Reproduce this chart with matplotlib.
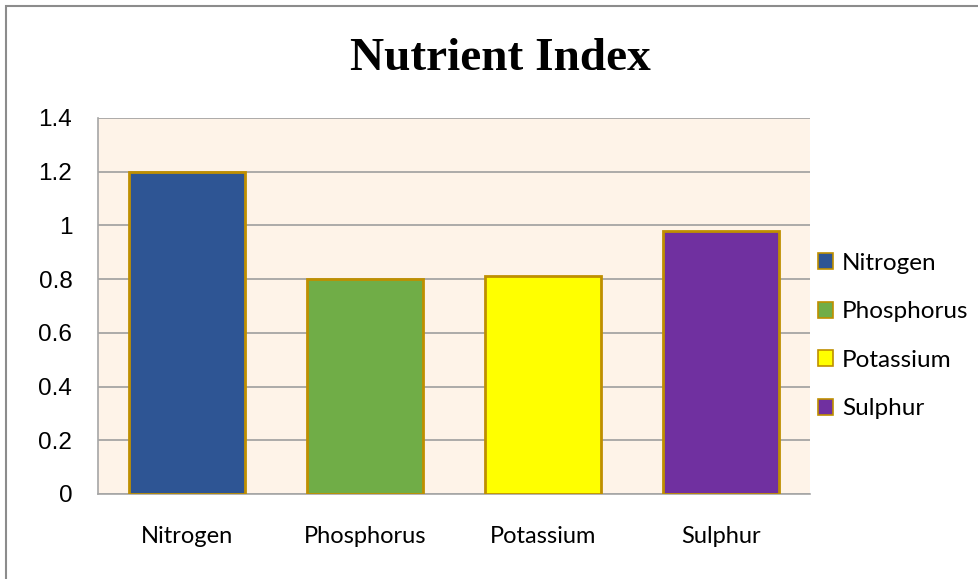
import matplotlib.pyplot as plt
from matplotlib.patches import Rectangle, Patch

# data
nutrients = ["Nitrogen", "Phosphorus", "Potassium", "Sulphur"]
index_values = [1.2, 0.80, 0.81, 0.98]
bar_colors = ["#2E5594", "#70AD47", "#FFFF00", "#7030A0"]
y_ticks = [0, 0.2, 0.4, 0.6, 0.8, 1, 1.2, 1.4]
y_tick_labels = ["0", "0.2", "0.4", "0.6", "0.8", "1", "1.2", "1.4"]

edge = "#BF8F00"

fig = plt.figure(figsize=(9.79, 5.79), dpi=100)
fig.patch.set_facecolor("white")

# outer chart border (only left/top visible in reference)
fig.add_artist(Rectangle((6 / 979, -0.1), 1.2, 1 - 6 / 579 + 0.1,
                         transform=fig.transFigure, fill=False,
                         edgecolor="#8C8C8C", linewidth=1.5))

ax = fig.add_axes([98 / 979, 1 - 494 / 579, 712 / 979, 376 / 579])
ax.set_facecolor("#FEF3E8")

x = range(len(nutrients))
ax.bar(x, index_values, width=0.65, color=bar_colors, edgecolor=edge,
       linewidth=2, zorder=3)

ax.set_xlim(-0.5, len(nutrients) - 0.5)
ax.set_ylim(0, 1.4)
ax.set_yticks(y_ticks)
ax.set_yticklabels(y_tick_labels, fontsize=17.5, family="Liberation Sans")
ax.set_xticks(list(x))
ax.set_xticklabels(nutrients, fontsize=17, family="Lato")
ax.tick_params(axis="both", length=0)
ax.tick_params(axis="y", pad=18.5)
ax.tick_params(axis="x", pad=23)

ax.yaxis.grid(True, color="#9E9E9E", linewidth=1.2, zorder=0)
ax.set_axisbelow(True)
for side in ["top", "right"]:
    ax.spines[side].set_visible(False)
for side in ["left", "bottom"]:
    ax.spines[side].set_color("#A6A6A6")
    ax.spines[side].set_linewidth(1.2)

fig.text(500 / 979, 1 - 70 / 579, "Nutrient Index", ha="center", va="baseline",
         fontsize=34, fontweight="bold", family="Liberation Serif")

handles = [Patch(facecolor=c, edgecolor=edge, linewidth=1.2, label=n)
           for c, n in zip(bar_colors, nutrients)]
fig.legend(handles=handles, loc="center left",
           bbox_to_anchor=(796 / 979, 1 - 336 / 579), frameon=False,
           prop={"family": "Lato", "size": 17.5}, handlelength=0.62,
           handleheight=0.62, handletextpad=0.37, labelspacing=1.13)

fig.savefig("out.png", dpi=100)
